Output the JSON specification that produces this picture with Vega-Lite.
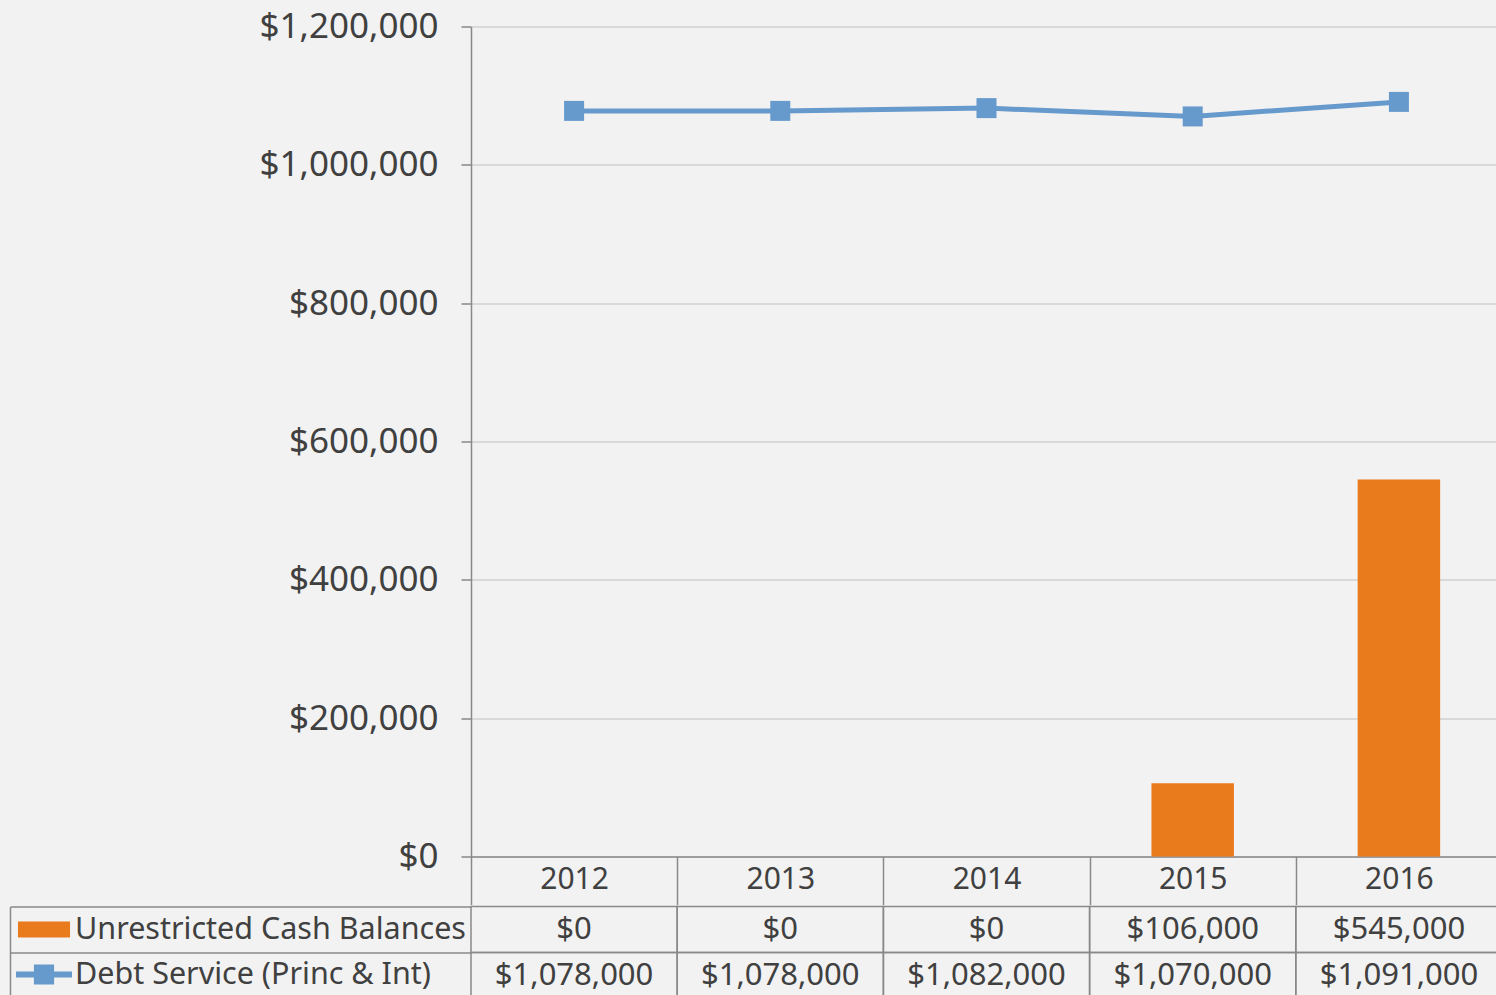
{
  "$schema": "https://vega.github.io/schema/vega-lite/v6.json",
  "background": "#f2f2f2",
  "padding": {"left": 0, "top": 9.5, "right": 0, "bottom": 0},
  "config": {"view": {"stroke": null}, "font": "Noto Sans"},
  "datasets": {
    "rows": [
      {"year": "2012", "series": "Unrestricted Cash Balances", "value": 0},
      {"year": "2013", "series": "Unrestricted Cash Balances", "value": 0},
      {"year": "2014", "series": "Unrestricted Cash Balances", "value": 0},
      {"year": "2015", "series": "Unrestricted Cash Balances", "value": 106000},
      {"year": "2016", "series": "Unrestricted Cash Balances", "value": 545000},
      {"year": "2012", "series": "Debt Service (Princ & Int)", "value": 1078000},
      {"year": "2013", "series": "Debt Service (Princ & Int)", "value": 1078000},
      {"year": "2014", "series": "Debt Service (Princ & Int)", "value": 1082000},
      {"year": "2015", "series": "Debt Service (Princ & Int)", "value": 1070000},
      {"year": "2016", "series": "Debt Service (Princ & Int)", "value": 1091000}
    ]
  },
  "spacing": 0,
  "resolve": {"scale": {"color": "independent", "shape": "independent"}, "legend": {"color": "independent", "shape": "independent"}},
  "vconcat": [
    {
      "width": 1031,
      "height": 830,
      "data": {"name": "rows"},
      "encoding": {
        "x": {
          "field": "year", "type": "ordinal",
          "scale": {"paddingInner": 0, "paddingOuter": 0},
          "axis": {
            "title": null, "labelAngle": 0, "labelFontSize": 30, "labelColor": "#404040",
            "labelBaseline": "middle", "labelPadding": -25, "tickSize": 48, "tickBand": "extent",
            "tickColor": "#898989", "tickWidth": 1.5, "domainColor": "#898989", "domainWidth": 1.5,
            "minExtent": 48, "maxExtent": 48
          }
        }
      },
      "layer": [
        {
          "transform": [{"filter": "datum.series === 'Unrestricted Cash Balances'"}],
          "mark": {"type": "bar", "color": "#E97B1D", "width": {"band": 0.4}},
          "encoding": {
            "y": {
              "field": "value", "type": "quantitative",
              "scale": {"domain": [0, 1200000], "nice": false},
              "axis": {
                "title": null, "values": [0, 200000, 400000, 600000, 800000, 1000000, 1200000],
                "format": "$,.0f", "labelFontSize": 35, "labelColor": "#404040", "labelPadding": 23,
                "tickSize": 10, "tickColor": "#898989", "tickWidth": 1.5,
                "domainColor": "#898989", "domainWidth": 1.5,
                "gridColor": "#d9d9d9", "gridWidth": 2,
                "minExtent": 471, "maxExtent": 471
              }
            }
          }
        },
        {
          "transform": [{"filter": "datum.series === 'Debt Service (Princ & Int)'"}],
          "mark": {"type": "line", "color": "#6699CC", "strokeWidth": 5},
          "encoding": {"y": {"field": "value", "type": "quantitative"}}
        },
        {
          "transform": [{"filter": "datum.series === 'Debt Service (Princ & Int)'"}],
          "mark": {"type": "point", "shape": "square", "size": 400, "filled": true, "opacity": 1, "color": "#6699CC"},
          "encoding": {"y": {"field": "value", "type": "quantitative"}}
        }
      ]
    },
    {
      "width": 1031,
      "height": 92,
      "data": {"name": "rows"},
      "encoding": {
        "x": {"field": "year", "type": "ordinal", "scale": {"paddingInner": 0, "paddingOuter": 0}, "axis": null},
        "y": {
          "field": "series", "type": "nominal",
          "scale": {"domain": ["Unrestricted Cash Balances", "Debt Service (Princ & Int)"], "paddingInner": 0, "paddingOuter": 0},
          "axis": {
            "title": null, "labels": false, "offset": 461, "tickSize": -461, "tickBand": "extent",
            "tickColor": "#898989", "tickWidth": 1.5, "domainColor": "#898989", "domainWidth": 1.5,
            "minExtent": 10, "maxExtent": 10
          }
        }
      },
      "layer": [
        {
          "mark": {"type": "rect", "fill": "transparent", "stroke": "#898989", "strokeWidth": 1.5}
        },
        {
          "mark": {"type": "point", "filled": true, "opacity": 0},
          "encoding": {
            "color": {
              "field": "series", "type": "nominal",
              "scale": {"domain": ["Unrestricted Cash Balances", "Debt Service (Princ & Int)"], "range": ["#E97B1D", "#6699CC"]},
              "legend": {
                "title": null, "orient": "none", "legendX": -455, "legendY": 0.5, "direction": "vertical",
                "padding": 0, "rowPadding": 0, "clipHeight": 45, "symbolSize": 3136, "labelOffset": 3,
                "labelFontSize": 30.5, "labelColor": "#404040", "labelLimit": 0, "labelFont": "Noto Sans",
                "symbolOpacity": 1, "symbolStrokeWidth": 0
              }
            },
            "shape": {
              "field": "series", "type": "nominal",
              "scale": {"domain": ["Unrestricted Cash Balances", "Debt Service (Princ & Int)"], "range": ["M-0.93,-0.29H0.93V0.29H-0.93Z", "M-1,-0.11H1V0.11H-1ZM-0.36,-0.36H0.36V0.36H-0.36Z"]},
              "legend": {
                "title": null, "orient": "none", "legendX": -455, "legendY": 0.5, "direction": "vertical",
                "padding": 0, "rowPadding": 0, "clipHeight": 45, "symbolSize": 3136, "labelOffset": 3,
                "labelFontSize": 30.5, "labelColor": "#404040", "labelLimit": 0, "labelFont": "Noto Sans",
                "symbolOpacity": 1, "symbolStrokeWidth": 0
              }
            }
          }
        },
        {
          "mark": {"type": "text", "fontSize": 31, "color": "#404040"},
          "encoding": {"text": {"field": "value", "type": "quantitative", "format": "$,.0f"}}
        }
      ]
    }
  ]
}
